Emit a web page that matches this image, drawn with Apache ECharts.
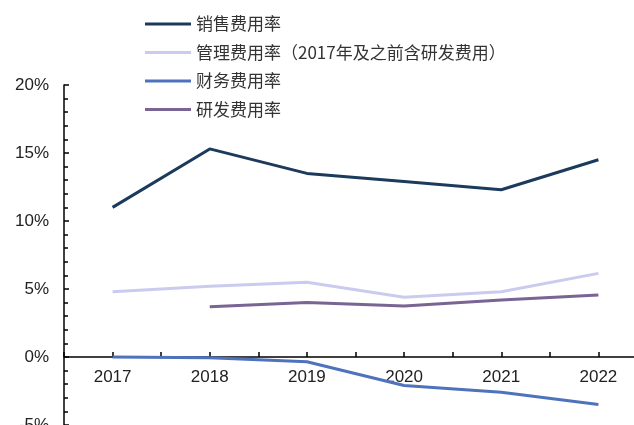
<!DOCTYPE html>
<html>
<head>
<meta charset="utf-8">
<script src="https://cdn.jsdelivr.net/npm/echarts@6/dist/echarts.min.js"></script>
<style>
html,body{margin:0;padding:0;background:#fff;}
#main{width:634px;height:425px;}
</style>
</head>
<body>
<div id="main"></div>
<script>
var years = ['2017', '2018', '2019', '2020', '2021', '2022'];
var salesRate = [11.0, 15.3, 13.5, 12.9, 12.3, 14.5];
var adminRate = [4.8, 5.2, 5.5, 4.4, 4.8, 6.15];
var financeRate = [0.0, -0.05, -0.35, -2.1, -2.6, -3.5];
var rdRate = [null, 3.7, 4.0, 3.75, 4.2, 4.55];

var seriesNames = ['销售费用率', '管理费用率（2017年及之前含研发费用）', '财务费用率', '研发费用率'];
var seriesColors = ['#1b3a5c', '#cbcbef', '#4f72bc', '#7a6494'];

var myChart = echarts.init(document.getElementById('main'));

function makeLine(i, data) {
    return {
        name: seriesNames[i],
        type: 'line',
        data: data,
        symbol: 'none',
        lineStyle: { color: seriesColors[i], width: 3 },
        itemStyle: { color: seriesColors[i] },
        connectNulls: false
    };
}

var option = {
    animation: false,
    legend: {
        orient: 'vertical',
        left: 145,
        top: 14,
        padding: 0,
        icon: 'rect',
        itemWidth: 46,
        itemHeight: 3,
        itemGap: 8.5,
        data: seriesNames,
        textStyle: {
            fontFamily: 'Noto Sans CJK SC',
            fontSize: 17,
            lineHeight: 20,
            color: '#333'
        }
    },
    grid: { left: 64, right: -13, top: 85, bottom: 0, containLabel: false, outerBoundsMode: 'none' },
    xAxis: [{
        type: 'category',
        data: years,
        position: 'bottom',
        boundaryGap: true,
        axisLine: { show: true, onZero: true, lineStyle: { color: '#000', width: 1.5 } },
        axisTick: { show: false },
        // labels sit at the grid edge, pull them up under the zero line
        axisLabel: { margin: -56, fontFamily: 'Liberation Sans', fontSize: 17, color: '#222' }
    }, {
        // tick-only axis: marks both year positions and the gaps between them,
        // shifted down from the top edge onto the 0% line
        type: 'value',
        position: 'top',
        offset: -272,
        min: -0.5,
        max: 5.5,
        interval: 0.5,
        axisLine: { show: false, onZero: false },
        axisTick: { show: true, inside: false, length: 5, lineStyle: { color: '#000', width: 1.5 } },
        axisLabel: { show: false },
        splitLine: { show: false }
    }],
    yAxis: {
        type: 'value',
        min: -5,
        max: 20,
        interval: 5,
        axisLine: { show: true, onZero: false, lineStyle: { color: '#000', width: 1.5 } },
        axisTick: { show: true, inside: true, length: 5, lineStyle: { color: '#000', width: 1.5 } },
        minorTick: { show: true, splitNumber: 5, length: 4, lineStyle: { color: '#000', width: 1.5 } },
        splitLine: { show: false },
        axisLabel: { formatter: '{value}%', margin: 15, fontFamily: 'Liberation Sans', fontSize: 17, color: '#222' }
    },
    series: [
        makeLine(0, salesRate),
        makeLine(1, adminRate),
        makeLine(2, financeRate),
        makeLine(3, rdRate)
    ]
};

myChart.setOption(option);
</script>
</body>
</html>
